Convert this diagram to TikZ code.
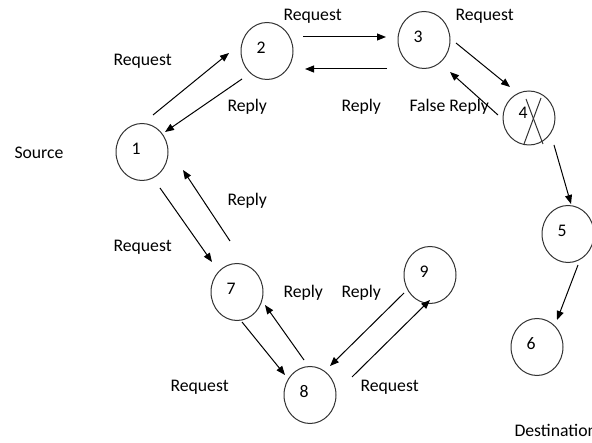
\documentclass[tikz,border=0pt]{standalone}
\usepackage{fontspec}
\setmainfont{Carlito}
\usepackage{tikz}
\usetikzlibrary{arrows.meta,automata,shapes.geometric}

\begin{document}
\begin{tikzpicture}[x=1pt,y=-1pt,->,>={Triangle[length=9pt,width=7pt]},line width=1pt,
                    font=\fontsize{17.7}{20}\selectfont]
  \tikzstyle{every state}=[ellipse,draw=black!80,fill=white,minimum width=52pt,
                           minimum height=57pt,inner sep=0pt,-]
  \tikzstyle{num}=[xshift=-6pt,yshift=3pt,inner sep=0pt]
  \tikzstyle{txt}=[anchor=base west,inner sep=0pt]
  \useasboundingbox (0,0) rectangle (592,443);

  % nodes
  \node[state,label={[num]center:1}] (n1) at (142,152) {};
  \node[state,label={[num]center:2}] (n2) at (267,51) {};
  \node[state,label={[num]center:3}] (n3) at (424,40) {};
  \node[state,minimum height=54pt,label={[num,yshift=2pt]center:4}] (n4) at (529,118) {};
  \node[state,label={[num]center:5}] (n5) at (568,234) {};
  \node[state,label={[num]center:6}] (n6) at (537,347) {};
  \node[state,label={[num]center:7}] (n7) at (237,292) {};
  \node[state,label={[num]center:8}] (n8) at (310,395) {};
  \node[state,label={[num]center:9}] (n9) at (430,275) {};

  % cross on 4
  \draw[-,draw=black!80] ([shift={(-3,-19)}]n4.center) -- ([shift={(14,26)}]n4.center);
  \draw[-,draw=black!80] ([shift={(12,-20)}]n4.center) -- ([shift={(-5,26)}]n4.center);

  % texts
  \node[txt] (src)   at (14,159)  {Source};
  \node[txt] (dst)   at (514,437) {Destination};
  \node[txt] (req12) at (113,66)  {Request};
  \node[txt] (rep21) at (227,112) {Reply};
  \node[txt] (req23) at (283,21)  {Request};
  \node[txt] (rep32) at (341,112) {Reply};
  \node[txt] (req34) at (455,21)  {Request};
  \node[txt] (frep)  at (409,112) {False Reply};
  \node[txt] (req17) at (113,252) {Request};
  \node[txt] (rep71) at (227,206) {Reply};
  \node[txt] (rep87) at (283,298) {Reply};
  \node[txt] (rep98) at (341,298) {Reply};
  \node[txt] (req78) at (170,392) {Request};
  \node[txt] (req89) at (360,392) {Request};

  % connectors
  \draw ([shift={(11,-37)}]n1.center) -- ([shift={(-38,2)}]n2.center);
  \draw ([shift={(-25,28)}]n2.center) -- ([shift={(23,-20)}]n1.center);
  \draw ([shift={(36,-14)}]n2.center) -- ([shift={(-38,-3)}]n3.center);
  \draw ([shift={(-37,29)}]n3.center) -- ([shift={(38,18)}]n2.center);
  \draw ([shift={(32,3)}]n3.center)   -- ([shift={(-19,-31)}]n4.center);
  \draw ([shift={(-31,-3)}]n4.center) -- ([shift={(26,32)}]n3.center);
  \draw ([shift={(25,27)}]n4.center)  -- ([shift={(3,-30)}]n5.center);
  \draw ([shift={(10,31)}]n5.center)  -- ([shift={(20,-27)}]n6.center);
  \draw ([shift={(18,36)}]n1.center)  -- ([shift={(-25,-30)}]n7.center);
  \draw ([shift={(-7,-51)}]n7.center) -- ([shift={(41,18)}]n1.center);
  \draw ([shift={(5,30)}]n7.center)   -- ([shift={(-25,-20)}]n8.center);
  \draw ([shift={(-6,-35)}]n8.center) -- ([shift={(28,13)}]n7.center);
  \draw ([shift={(-26,18)}]n9.center) -- ([shift={(20,-29)}]n8.center);
  \draw ([shift={(42,-18)}]n8.center) -- ([shift={(0,25)}]n9.center);
\end{tikzpicture}
\end{document}
